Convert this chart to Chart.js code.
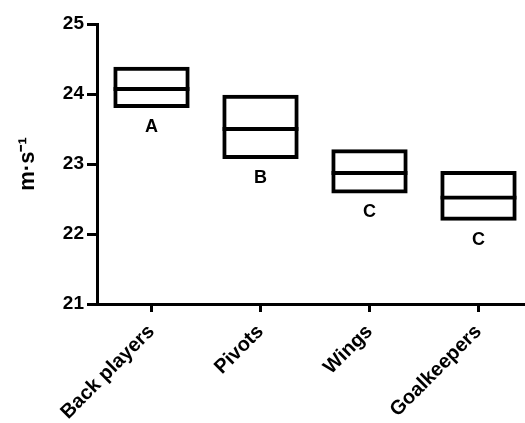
<!DOCTYPE html>
<html>
<head>
<meta charset="utf-8">
<script src="https://cdn.jsdelivr.net/npm/chart.js@4"></script>
<style>
  html, body { margin: 0; padding: 0; background: #fff; overflow: hidden; }
  #wrap { position: relative; width: 533px; height: 423px; }
</style>
</head>
<body>
<div id="wrap"><canvas id="speedChart"></canvas></div>
<script>
const positions = ['Back players', 'Pivots', 'Wings', 'Goalkeepers'];
const lowValues = [23.80, 23.07, 22.58, 22.19];
const highValues = [24.39, 23.99, 23.21, 22.90];
const meanValues = [24.10, 23.53, 22.90, 22.55];
const groupLetters = ['A', 'B', 'C', 'C'];
const yTicks = [21, 22, 23, 24, 25];

const fontFamily = '"Liberation Sans", Arial, sans-serif';

// letters under each box
const letterPlugin = {
  id: 'groupLetters',
  afterDatasetsDraw(chart) {
    const { ctx, scales: { x, y } } = chart;
    ctx.save();
    ctx.fillStyle = '#000';
    ctx.font = 'bold 18px ' + fontFamily;
    ctx.textAlign = 'center';
    ctx.textBaseline = 'middle';
    groupLetters.forEach((letter, i) => {
      ctx.fillText(letter, x.getPixelForValue(i), y.getPixelForValue(lowValues[i]) + 19);
    });
    ctx.restore();
  }
};

const ctx = document.getElementById('speedChart').getContext('2d');
new Chart(ctx, {
  type: 'bar',
  data: {
    labels: positions,
    datasets: [
      {
        // box from low to high
        data: positions.map((p, i) => [lowValues[i], highValues[i]]),
        backgroundColor: 'rgba(255, 255, 255, 0)',
        borderColor: '#000',
        borderWidth: 4,
        borderSkipped: false,
        grouped: false,
        barPercentage: 0.7,
        categoryPercentage: 1
      },
      {
        // mean line = top edge of a bar from low to mean
        data: positions.map((p, i) => [lowValues[i], meanValues[i]]),
        backgroundColor: 'rgba(255, 255, 255, 0)',
        borderColor: '#000',
        borderWidth: { top: 4, right: 0, bottom: 0, left: 0 },
        borderSkipped: false,
        grouped: false,
        barPercentage: 0.7,
        categoryPercentage: 1
      }
    ]
  },
  options: {
    responsive: true,
    maintainAspectRatio: false,
    animation: false,
    events: [],
    layout: { padding: { top: 24, right: 0, bottom: 0, left: 0 } },
    plugins: {
      legend: { display: false },
      tooltip: { enabled: false }
    },
    scales: {
      x: {
        offset: true,
        grid: {
          display: true,
          drawOnChartArea: false,
          drawTicks: true,
          tickLength: 8,
          lineWidth: 3,
          color: '#000',
          offset: false
        },
        border: { display: true, color: '#000', width: 3 },
        ticks: {
          color: '#000',
          font: { family: fontFamily, size: 20, weight: 'bold' },
          minRotation: 45,
          maxRotation: 45,
          autoSkip: false,
          padding: 8
        },
        afterFit: (scale) => { scale.height = 119; }
      },
      y: {
        min: 21,
        max: 25,
        afterBuildTicks: (scale) => { scale.ticks = yTicks.map(v => ({ value: v })); },
        grid: {
          display: true,
          drawOnChartArea: false,
          drawTicks: true,
          tickLength: 10,
          lineWidth: 3,
          color: '#000'
        },
        border: { display: true, color: '#000', width: 3 },
        ticks: {
          color: '#000',
          font: { family: fontFamily, size: 19, weight: 'bold' },
          padding: 3
        },
        title: {
          display: true,
          text: 'm·s⁻¹',
          color: '#000',
          font: { family: fontFamily, size: 22, weight: 'bold' },
          padding: { top: 15, bottom: 0 }
        },
        afterFit: (scale) => { scale.width = 97; }
      }
    }
  },
  plugins: [letterPlugin]
});
</script>
</body>
</html>
